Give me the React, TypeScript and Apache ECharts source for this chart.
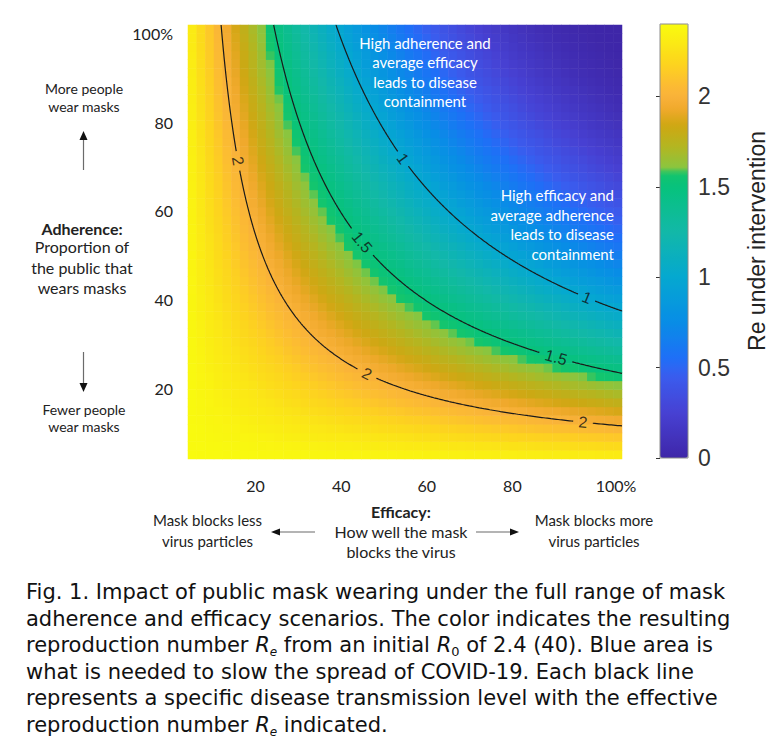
import React, { useEffect, useRef } from "react";
import * as echarts from "echarts";

// ---- data ----
const R0 = 2.4; // initial reproduction number (caption)
const efficacyPct = [2, 4, 6, 8, 10, 12, 14, 16, 18, 20, 22, 24, 26, 28, 30, 32, 34, 36, 38, 40, 42, 44, 46, 48, 50, 52, 54, 56, 58, 60, 62, 64, 66, 68, 70, 72, 74, 76, 78, 80, 82, 84, 86, 88, 90, 92, 94, 96, 98, 100];
const adherencePct = [2, 4, 6, 8, 10, 12, 14, 16, 18, 20, 22, 24, 26, 28, 30, 32, 34, 36, 38, 40, 42, 44, 46, 48, 50, 52, 54, 56, 58, 60, 62, 64, 66, 68, 70, 72, 74, 76, 78, 80, 82, 84, 86, 88, 90, 92, 94, 96, 98, 100];
const contourLevels = [1, 1.5, 2];
const contourLabelEfficacy: Record<string, number[]> = {
  "1": [0.505, 0.929],
  "1.5": [0.411, 0.858],
  "2": [0.125, 0.422, 0.92],
};
const axisTickValues = [20, 40, 60, 80, 100];
const colorbarTicks = [0, 0.5, 1, 1.5, 2];
const colorbarMax = 2.4;
const captionLines = [
  "Fig. 1. Impact of public mask wearing under the full range of mask",
  "adherence and efficacy scenarios. The color indicates the resulting",
  "reproduction number {i|R}{s|e} from an initial {i|R}{z|0} of 2.4 (40). Blue area is",
  "what is needed to slow the spread of COVID-19. Each black line",
  "represents a specific disease transmission level with the effective",
  "reproduction number {i|R}{s|e} indicated.",
];

// ---- styling ----
const LATO = "Lato, 'DejaVu Sans', sans-serif";
const ARIAL = "'Liberation Sans', Arial, sans-serif";
const CAPFONT = "'DejaVu Sans', 'Open Sans', sans-serif";
const cmapStops: [number, string][] = [
  [0.0, "#3e26a8"],
  [0.25, "#4741d3"],
  [0.45, "#3a5cee"],
  [0.55, "#1f6ff7"],
  [0.75, "#088de6"],
  [1.0, "#05a8d0"],
  [1.25, "#12b8a8"],
  [1.5, "#07c27c"],
  [1.575, "#14c56c"],
  [1.6, "#88c640"],
  [1.72, "#b3b621"],
  [1.84, "#cfa712"],
  [1.93, "#f1a92c"],
  [2.0, "#f9b23a"],
  [2.08, "#fcbf30"],
  [2.17, "#fdd21f"],
  [2.27, "#fbe516"],
  [2.4, "#f9fb0e"],
];

function hexRgb(h: string) {
  return [parseInt(h.slice(1, 3), 16), parseInt(h.slice(3, 5), 16), parseInt(h.slice(5, 7), 16)];
}
function buildPalette(n: number) {
  const out: string[] = [];
  for (let k = 0; k < n; k++) {
    const v = (colorbarMax * k) / (n - 1);
    let s = 0;
    while (s < cmapStops.length - 2 && v > cmapStops[s + 1][0]) s++;
    const [v0, c0] = cmapStops[s];
    const [v1, c1] = cmapStops[s + 1];
    const t = Math.max(0, Math.min(1, (v - v0) / (v1 - v0)));
    const a = hexRgb(c0), b = hexRgb(c1);
    const c = a.map((x, i) => Math.round(x + (b[i] - x) * t));
    out.push(`rgb(${c[0]},${c[1]},${c[2]})`);
  }
  return out;
}

function contourSegments(level: number, labelEff: number[], gap: number) {
  const c = 1 - Math.sqrt(level / R0);
  const e0 = c / 1.01, e1 = 1.01;
  const N = 500;
  const labels = labelEff.map((e) => [e, c / e]);
  const segs: number[][][] = [];
  let cur: number[][] = [];
  for (let k = 0; k <= N; k++) {
    const e = Math.exp(Math.log(e0) + ((Math.log(e1) - Math.log(e0)) * k) / N);
    const a = c / e;
    const near = labels.some(([le, la]) => Math.hypot(e - le, a - la) < gap);
    if (near) {
      if (cur.length > 1) segs.push(cur);
      cur = [];
    } else cur.push([e, a]);
  }
  if (cur.length > 1) segs.push(cur);
  return segs;
}

export default function App() {
  const ref = useRef<HTMLDivElement>(null);
  useEffect(() => {
    if (!ref.current) return;
    const chart = echarts.init(ref.current, null, { renderer: "svg" });

    const heatData: number[][] = [];
    adherencePct.forEach((a, i) =>
      efficacyPct.forEach((e, j) => {
        const re = R0 * Math.pow(1 - (a / 100) * (e / 100), 2);
        heatData.push([j, i, +re.toFixed(4)]);
      })
    );

    const gaps: Record<string, number> = { "1": 0.02, "1.5": 0.038, "2": 0.022 };
    const lineSeries: any[] = [];
    const labelData: any[] = [];
    contourLevels.forEach((lv) => {
      const key = String(lv);
      contourSegments(lv, contourLabelEfficacy[key], gaps[key]).forEach((seg) =>
        lineSeries.push({
          type: "line",
          xAxisIndex: 1,
          yAxisIndex: 1,
          data: seg,
          symbol: "none",
          smooth: false,
          silent: true,
          lineStyle: { color: "#1a1a1a", width: 1.2 },
          z: 3,
        })
      );
      const c = 1 - Math.sqrt(lv / R0);
      contourLabelEfficacy[key].forEach((e) => {
        const ang = (Math.atan(c / (e * e)) * 180) / Math.PI;
        labelData.push({ value: [e, c / e], label: { formatter: key, rotate: -ang } });
      });
    });

    const palette = buildPalette(97);

    const txt = (x: number, y: number, text: string, o: any = {}) => ({
      type: "text",
      x,
      y,
      z: 100,
      silent: true,
      style: {
        text,
        fill: o.fill || "#222",
        fontSize: o.size || 14,
        fontFamily: o.family || LATO,
        fontWeight: o.weight || "normal",
        align: o.align || "center",
        verticalAlign: "middle",
        lineHeight: o.lh,
      },
    });
    const shaft = (x1: number, y1: number, x2: number, y2: number) => ({
      type: "line",
      z: 100,
      silent: true,
      shape: { x1, y1, x2, y2 },
      style: { stroke: "#6b6b6b", lineWidth: 1.2 },
    });
    const head = (pts: number[][]) => ({
      type: "polygon",
      z: 100,
      silent: true,
      shape: { points: pts },
      style: { fill: "#111" },
    });

    const capSize = 21;
    const capLH = 26.6;
    const caption = {
      type: "text",
      x: 26,
      y: 592 - capLH / 2,
      z: 100,
      silent: true,
      style: {
        text: captionLines.join("\n"),
        fill: "#111",
        fontSize: capSize,
        fontFamily: CAPFONT,
        align: "left",
        verticalAlign: "top",
        lineHeight: capLH,
        rich: {
          i: { fontSize: capSize, fontFamily: CAPFONT, fontStyle: "italic", fill: "#111", lineHeight: capLH },
          s: { fontSize: 12, fontFamily: CAPFONT, fontStyle: "italic", fill: "#111", lineHeight: 11, verticalAlign: "bottom" },
          z: { fontSize: 13, fontFamily: CAPFONT, fill: "#111", lineHeight: 11, verticalAlign: "bottom" },
        },
      },
    };

    const graphic: any[] = [
      txt(84, 97, "More people\nwear masks", { size: 14, lh: 18 }),
      shaft(83.5, 170, 83.5, 139),
      head([[83.5, 131], [79.5, 140], [87.5, 140]]),
      txt(82, 228, "Adherence:", { size: 16, weight: "bold" }),
      txt(82, 267, "Proportion of\nthe public that\nwears masks", { size: 16, lh: 20.5 }),
      shaft(83.5, 352, 83.5, 383),
      head([[83.5, 392], [79.5, 383], [87.5, 383]]),
      txt(84, 417.5, "Fewer people\nwear masks", { size: 14, lh: 17 }),

      txt(425, 72, "High adherence and\naverage efficacy\nleads to disease\ncontainment", { size: 15, lh: 19.5, fill: "#ffffff" }),
      txt(614, 224.5, "High efficacy and\naverage adherence\nleads to disease\ncontainment", { size: 15, lh: 19.5, fill: "#ffffff", align: "right" }),

      txt(207.5, 530.5, "Mask blocks less\nvirus particles", { size: 15, lh: 20.5 }),
      shaft(315, 532, 280, 532),
      head([[271, 532], [280, 528.5], [280, 535.5]]),
      txt(401, 511, "Efficacy:", { size: 16, weight: "bold" }),
      txt(401, 541, "How well the mask\nblocks the virus", { size: 16, lh: 20 }),
      shaft(476, 532, 510, 532),
      head([[519, 532], [510, 528.5], [510, 535.5]]),
      txt(594, 530.5, "Mask blocks more\nvirus particles", { size: 15, lh: 20.5 }),

      {
        type: "rect",
        z: 100,
        silent: true,
        shape: { x: 660, y: 24, width: 28, height: 434 },
        style: { fill: "none", stroke: "#8c8c8c", lineWidth: 1 },
      },
      caption,
    ];

    const hiddenVal = (gridIndex: number, extra: any = {}) => ({ type: "value", gridIndex, show: false, ...extra });

    chart.setOption({
      animation: false,
      grid: [
        { left: 188, top: 25, width: 434, height: 434 },
        { left: 188, top: 25, width: 434, height: 434 },
        { left: 170, top: 25, width: 428, height: 434 },
        { left: 188, top: 33.25, width: 434, height: 443.75 },
        { left: 660, top: 24, width: 28, height: 434 },
      ],
      xAxis: [
        { type: "category", gridIndex: 0, data: efficacyPct.map(String), show: false },
        hiddenVal(1, { min: 0.01, max: 1.01 }),
        {
          type: "value",
          gridIndex: 2,
          min: 0,
          max: 100,
          interval: 20,
          axisLine: { show: false },
          axisTick: { show: false },
          splitLine: { show: false },
          axisLabel: {
            customValues: axisTickValues,
            margin: 18,
            fontFamily: LATO,
            fontSize: 16,
            color: "#222",
            formatter: (v: number) => (v === 100 ? "{last|100%}" : String(v)),
            rich: { last: { fontFamily: LATO, fontSize: 16, color: "#222", padding: [0, 0, 0, 36] } },
          },
        },
        hiddenVal(3),
        hiddenVal(4),
      ],
      yAxis: [
        { type: "category", gridIndex: 0, data: adherencePct.map(String), show: false },
        hiddenVal(1, { min: 0.01, max: 1.01 }),
        hiddenVal(2),
        {
          type: "value",
          gridIndex: 3,
          min: 0,
          max: 100,
          interval: 20,
          axisLine: { show: false },
          axisTick: { show: false },
          splitLine: { show: false },
          axisLabel: {
            customValues: axisTickValues,
            margin: 15,
            fontFamily: LATO,
            fontSize: 16,
            color: "#222",
            formatter: (v: number) => (v === 100 ? "100%" : String(v)),
          },
        },
        {
          type: "value",
          gridIndex: 4,
          position: "right",
          min: 0,
          max: colorbarMax,
          interval: 0.5,
          z: 10,
          axisLine: { show: false },
          splitLine: { show: false },
          axisTick: { show: true, inside: true, length: 4, customValues: colorbarTicks, lineStyle: { color: "#333" } },
          axisLabel: {
            customValues: colorbarTicks,
            margin: 10,
            fontFamily: ARIAL,
            fontSize: 23,
            color: "#333",
            formatter: (v: number) => String(v),
          },
          name: "Re under intervention",
          nameLocation: "middle",
          nameRotate: 90,
          nameGap: 57,
          nameTextStyle: { fontFamily: ARIAL, fontSize: 23, color: "#222" },
        },
      ],
      visualMap: {
        type: "continuous",
        min: 0,
        max: colorbarMax,
        dimension: 2,
        seriesIndex: 0,
        calculable: false,
        hoverLink: false,
        left: 660,
        top: 24,
        itemWidth: 28,
        itemHeight: 434,
        padding: 0,
        inRange: { color: palette },
      },
      series: [
        {
          type: "heatmap",
          xAxisIndex: 0,
          yAxisIndex: 0,
          data: heatData,
          progressive: 0,
          silent: true,
          emphasis: { disabled: true },
        },
        ...lineSeries,
        {
          type: "scatter",
          xAxisIndex: 1,
          yAxisIndex: 1,
          data: labelData,
          symbolSize: 1,
          silent: true,
          itemStyle: { color: "rgba(0,0,0,0)" },
          label: {
            show: true,
            position: "inside",
            fontFamily: ARIAL,
            fontSize: 16,
            color: "#111",
          },
          z: 4,
        },
      ],
      graphic,
    });
    return () => chart.dispose();
  }, []);
  return (
    <div
      ref={ref}
      style={{ position: "absolute", left: 0, top: 0, width: 776, height: 743, background: "#fff" }}
    />
  );
}
